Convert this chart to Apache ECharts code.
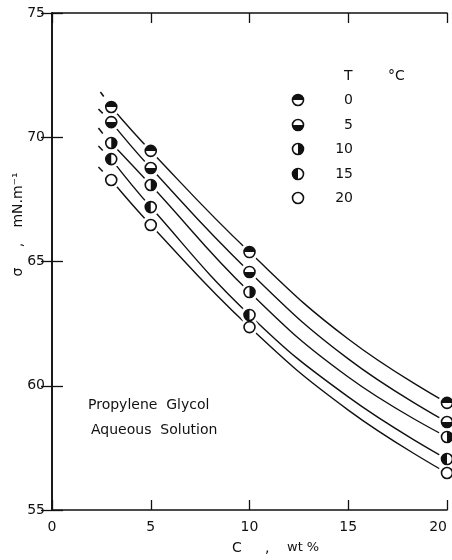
<!DOCTYPE html>
<html>
<head>
<meta charset="utf-8">
<script src="https://cdn.jsdelivr.net/npm/echarts@6/dist/echarts.min.js"></script>
<style>
html,body{margin:0;padding:0;background:#fff;}
#chart{width:452px;height:560px;}
</style>
</head>
<body>
<div id="chart"></div>
<script>
// ---- data ----
const temperatures = ['0', '5', '10', '15', '20'];          // T, °C
const markerFill = ['top', 'bottom', 'right', 'left', 'none'];
const concentrations = [3, 5, 10, 20];                     // C, wt %
const sigmaT0  = [71.22, 69.45, 65.38, 59.31];
const sigmaT5  = [70.61, 68.76, 64.58, 58.54];
const sigmaT10 = [69.77, 68.08, 63.77, 57.94];
const sigmaT15 = [69.12, 67.19, 62.85, 57.05];
const sigmaT20 = [68.28, 66.47, 62.36, 56.49];
// fitted curves
const curveX = [3, 5, 10, 15, 20];
const curveT0  = [71.22, 69.45, 65.38, 61.88, 59.31];
const curveT5  = [70.61, 68.76, 64.58, 61.08, 58.54];
const curveT10 = [69.77, 68.08, 63.77, 60.35, 57.94];
const curveT15 = [69.12, 67.19, 62.85, 59.55, 57.05];
const curveT20 = [68.28, 66.47, 62.36, 59.02, 56.49];
// short extrapolated dash segments before C = 3
const dashX   = [[2.45, 2.62], [2.35, 2.57], [2.35, 2.57], [2.35, 2.57], [2.35, 2.57]];
const dashT0  = [71.82, 71.64];
const dashT5  = [71.14, 70.96];
const dashT10 = [70.37, 70.15];
const dashT15 = [69.65, 69.47];
const dashT20 = [68.80, 68.62];
const xTicks = [0, 5, 10, 15, 20];
const yTicks = [55, 60, 65, 70, 75];

const sigmas = [sigmaT0, sigmaT5, sigmaT10, sigmaT15, sigmaT20];
const curves = [curveT0, curveT5, curveT10, curveT15, curveT20];
const dashes = [dashT0, dashT5, dashT10, dashT15, dashT20];

const FONT = 'DejaVu Sans';
const INK = '#111';
const R = 5.5;
const HALO = 9;

function sectorAngles(kind) {
  switch (kind) {
    case 'top': return [Math.PI, 2 * Math.PI];
    case 'bottom': return [0, Math.PI];
    case 'right': return [-Math.PI / 2, Math.PI / 2];
    case 'left': return [Math.PI / 2, 3 * Math.PI / 2];
    default: return null;
  }
}

function markerChildren(cx, cy, kind) {
  const ch = [];
  ch.push({ type: 'circle', shape: { cx, cy, r: R }, style: { fill: '#fff', stroke: INK, lineWidth: 1.6 } });
  const a = sectorAngles(kind);
  if (a) ch.push({ type: 'sector', shape: { cx, cy, r: R, r0: 0, startAngle: a[0], endAngle: a[1], clockwise: true }, style: { fill: INK } });
  return ch;
}

const series = [];
temperatures.forEach((t, i) => {
  series.push({
    type: 'line', name: 'curve ' + t, smooth: 0.45, showSymbol: false, silent: true, z: 2,
    lineStyle: { color: INK, width: 1.4 },
    data: curveX.map((x, k) => [x, curves[i][k]])
  });
  series.push({
    type: 'line', name: 'dash ' + t, showSymbol: false, silent: true, z: 2,
    lineStyle: { color: INK, width: 1.5 },
    data: dashX[i].map((x, k) => [x, dashes[i][k]])
  });
});
// white gaps where the curves meet the measured points
temperatures.forEach((t, i) => {
  series.push({
    type: 'custom', name: 'gap ' + t, z: 4, clip: false, silent: true,
    data: concentrations.map((c, k) => [c, sigmas[i][k]]),
    renderItem: function (params, api) {
      const p = api.coord([api.value(0), api.value(1)]);
      return { type: 'circle', shape: { cx: p[0], cy: p[1], r: HALO }, style: { fill: '#fff', stroke: null } };
    }
  });
});
temperatures.forEach((t, i) => {
  series.push({
    type: 'custom', name: t + ' °C', z: 5, clip: false,
    data: concentrations.map((c, k) => [c, sigmas[i][k]]),
    renderItem: function (params, api) {
      const p = api.coord([api.value(0), api.value(1)]);
      return { type: 'group', children: markerChildren(p[0], p[1], markerFill[i]) };
    }
  });
});

// legend drawn as graphic (layout only)
const legendGraphics = [
  { type: 'text', left: 344, top: 69, style: { text: 'T', font: '14px ' + FONT, fill: INK } },
  { type: 'text', left: 388, top: 69, style: { text: '°C', font: '14px ' + FONT, fill: INK } }
];
const legendY = [100, 125, 149, 174, 198];
temperatures.forEach((t, i) => {
  legendGraphics.push({ type: 'group', children: markerChildren(298, legendY[i], markerFill[i]) });
  legendGraphics.push({ type: 'text', x: 353, y: legendY[i], style: { text: t, font: '14px ' + FONT, fill: INK, align: 'right', verticalAlign: 'middle' } });
});

const axisLabelStyle = { color: INK, fontSize: 14, fontFamily: FONT };

const option = {
  animation: false,
  backgroundColor: '#fff',
  grid: { left: 52, right: 5, top: 13, bottom: 50 },
  xAxis: [
    {
      type: 'value', min: xTicks[0], max: xTicks[xTicks.length - 1], interval: 5, position: 'bottom',
      axisLine: { show: true, lineStyle: { color: INK, width: 1.6 } },
      axisTick: { show: true, inside: true, length: 10, lineStyle: { color: INK, width: 1.3 } },
      axisLabel: Object.assign({ margin: 10, alignMaxLabel: 'right' }, axisLabelStyle),
      splitLine: { show: false }
    },
    {
      type: 'value', min: xTicks[0], max: xTicks[xTicks.length - 1], interval: 5, position: 'top',
      axisLine: { show: true, lineStyle: { color: INK, width: 1.6 } },
      axisTick: { show: true, inside: true, length: 10, lineStyle: { color: INK, width: 1.3 } },
      axisLabel: { show: false }, splitLine: { show: false }
    }
  ],
  yAxis: [
    {
      type: 'value', min: yTicks[0], max: yTicks[yTicks.length - 1], interval: 5, position: 'left',
      axisLine: { show: true, lineStyle: { color: INK, width: 1.6 } },
      axisTick: { show: true, inside: true, length: 11, lineStyle: { color: INK, width: 1.3 } },
      axisLabel: Object.assign({ margin: 7 }, axisLabelStyle),
      splitLine: { show: false }
    },
    {
      type: 'value', min: yTicks[0], max: yTicks[yTicks.length - 1], interval: 5, position: 'right',
      axisLine: { show: true, lineStyle: { color: INK, width: 1.6 } },
      axisTick: { show: true, inside: true, length: 11, lineStyle: { color: INK, width: 1.3 } },
      axisLabel: { show: false }, splitLine: { show: false }
    }
  ],
  graphic: legendGraphics.concat([
    { type: 'text', x: 88, y: 405, style: { text: 'Propylene  Glycol', font: '14px ' + FONT, fill: INK, verticalAlign: 'middle' } },
    { type: 'text', x: 91, y: 430, style: { text: 'Aqueous  Solution', font: '14px ' + FONT, fill: INK, verticalAlign: 'middle' } },
    { type: 'text', x: 232, y: 548, style: { text: 'C', font: '14px ' + FONT, fill: INK, verticalAlign: 'middle' } },
    { type: 'text', x: 265, y: 548, style: { text: ',', font: '14px ' + FONT, fill: INK, verticalAlign: 'middle' } },
    { type: 'text', x: 287, y: 548, style: { text: 'wt %', font: '13px ' + FONT, fill: INK, verticalAlign: 'middle' } },
    { type: 'text', x: 18, y: 272, rotation: Math.PI / 2, style: { text: 'σ', font: '14px ' + FONT, fill: INK, align: 'center', verticalAlign: 'middle' } },
    { type: 'text', x: 18, y: 245, rotation: Math.PI / 2, style: { text: ',', font: '14px ' + FONT, fill: INK, align: 'center', verticalAlign: 'middle' } },
    { type: 'text', x: 18, y: 200, rotation: Math.PI / 2, style: { text: 'mN.m⁻¹', font: '14px ' + FONT, fill: INK, align: 'center', verticalAlign: 'middle' } }
  ]),
  series: series
};

const chart = echarts.init(document.getElementById('chart'), null, { renderer: 'canvas' });
chart.setOption(option);
</script>
</body>
</html>
